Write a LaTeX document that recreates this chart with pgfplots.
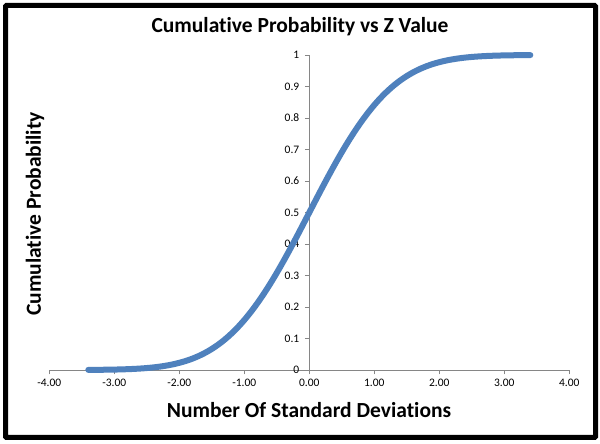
\documentclass[border=0pt]{standalone}
\usepackage{fontspec}
\setmainfont[Ligatures=NoCommon]{Carlito}
\usepackage{pgfplots}
\pgfplotsset{compat=1.18}
\definecolor{curveblue}{HTML}{4F81BD}
\definecolor{axisgray}{HTML}{868686}
\newcommand{\ticksize}{\fontsize{11.5bp}{13bp}\selectfont}

% standard normal CDF, z = -3.4 ... 3.4
\pgfplotstableread{
z     p
-3.4  0.00034
-3.3  0.00048
-3.2  0.00069
-3.1  0.00097
-3.0  0.00135
-2.9  0.00187
-2.8  0.00256
-2.7  0.00347
-2.6  0.00466
-2.5  0.00621
-2.4  0.00820
-2.3  0.01072
-2.2  0.01390
-2.1  0.01786
-2.0  0.02275
-1.9  0.02872
-1.8  0.03593
-1.7  0.04457
-1.6  0.05480
-1.5  0.06681
-1.4  0.08076
-1.3  0.09680
-1.2  0.11507
-1.1  0.13567
-1.0  0.15866
-0.9  0.18406
-0.8  0.21186
-0.7  0.24196
-0.6  0.27425
-0.5  0.30854
-0.4  0.34458
-0.3  0.38209
-0.2  0.42074
-0.1  0.46017
0.0   0.50000
0.1   0.53983
0.2   0.57926
0.3   0.61791
0.4   0.65542
0.5   0.69146
0.6   0.72575
0.7   0.75804
0.8   0.78814
0.9   0.81594
1.0   0.84134
1.1   0.86433
1.2   0.88493
1.3   0.90320
1.4   0.91924
1.5   0.93319
1.6   0.94520
1.7   0.95543
1.8   0.96407
1.9   0.97128
2.0   0.97725
2.1   0.98214
2.2   0.98610
2.3   0.98928
2.4   0.99180
2.5   0.99379
2.6   0.99534
2.7   0.99653
2.8   0.99744
2.9   0.99813
3.0   0.99865
3.1   0.99903
3.2   0.99931
3.3   0.99952
3.4   0.99966
}\cdfdata

\begin{document}
\begin{tikzpicture}[x=1bp,y=1bp]
\fill[white] (0,0) rectangle (600,444);
\draw[black, line width=5bp, rounded corners=1bp] (5.5,6.5) rectangle (595.5,438.5);

\begin{axis}[
    at={(49.3bp,74bp)}, anchor=south west,
    scale only axis,
    width=520bp, height=315bp,
    xmin=-4, xmax=4, ymin=0, ymax=1,
    axis lines=middle,
    axis line style={axisgray, -},
    hide obscured x ticks=false,
    hide obscured y ticks=false,
    xtick={-4,-3,...,4},
    xticklabels={{\ticksize -4.00},{\ticksize -3.00},{\ticksize -2.00},{\ticksize -1.00},
                 {\ticksize 0.00},{\ticksize 1.00},{\ticksize 2.00},{\ticksize 3.00},{\ticksize 4.00}},
    ytick={0,0.1,...,1},
    yticklabels={{\ticksize 0},{\ticksize 0.1},{\ticksize 0.2},{\ticksize 0.3},{\ticksize 0.4},
                 {\ticksize 0.5},{\ticksize 0.6},{\ticksize 0.7},{\ticksize 0.8},{\ticksize 0.9},{\ticksize 1}},
    tick align=outside,
    major tick length=4.5bp,
    tick style={axisgray},
    every tick label/.append style={text=black},
    x tick label style={yshift=-1bp},
    y tick label style={xshift=-2bp},
    clip=false,
]
\addplot[curveblue, line width=6bp, line cap=round, line join=round, smooth] table[x=z, y=p] {\cdfdata};
\end{axis}

\node[font=\bfseries\fontsize{21.5bp}{24bp}\selectfont] at (300,417) {Cumulative Probability vs Z Value};
\node[font=\bfseries\fontsize{21.5bp}{24bp}\selectfont] at (309,34) {Number Of Standard Deviations};
\node[font=\bfseries\fontsize{21.5bp}{24bp}\selectfont, rotate=90] at (35,230) {Cumulative Probability};
\end{tikzpicture}
\end{document}
